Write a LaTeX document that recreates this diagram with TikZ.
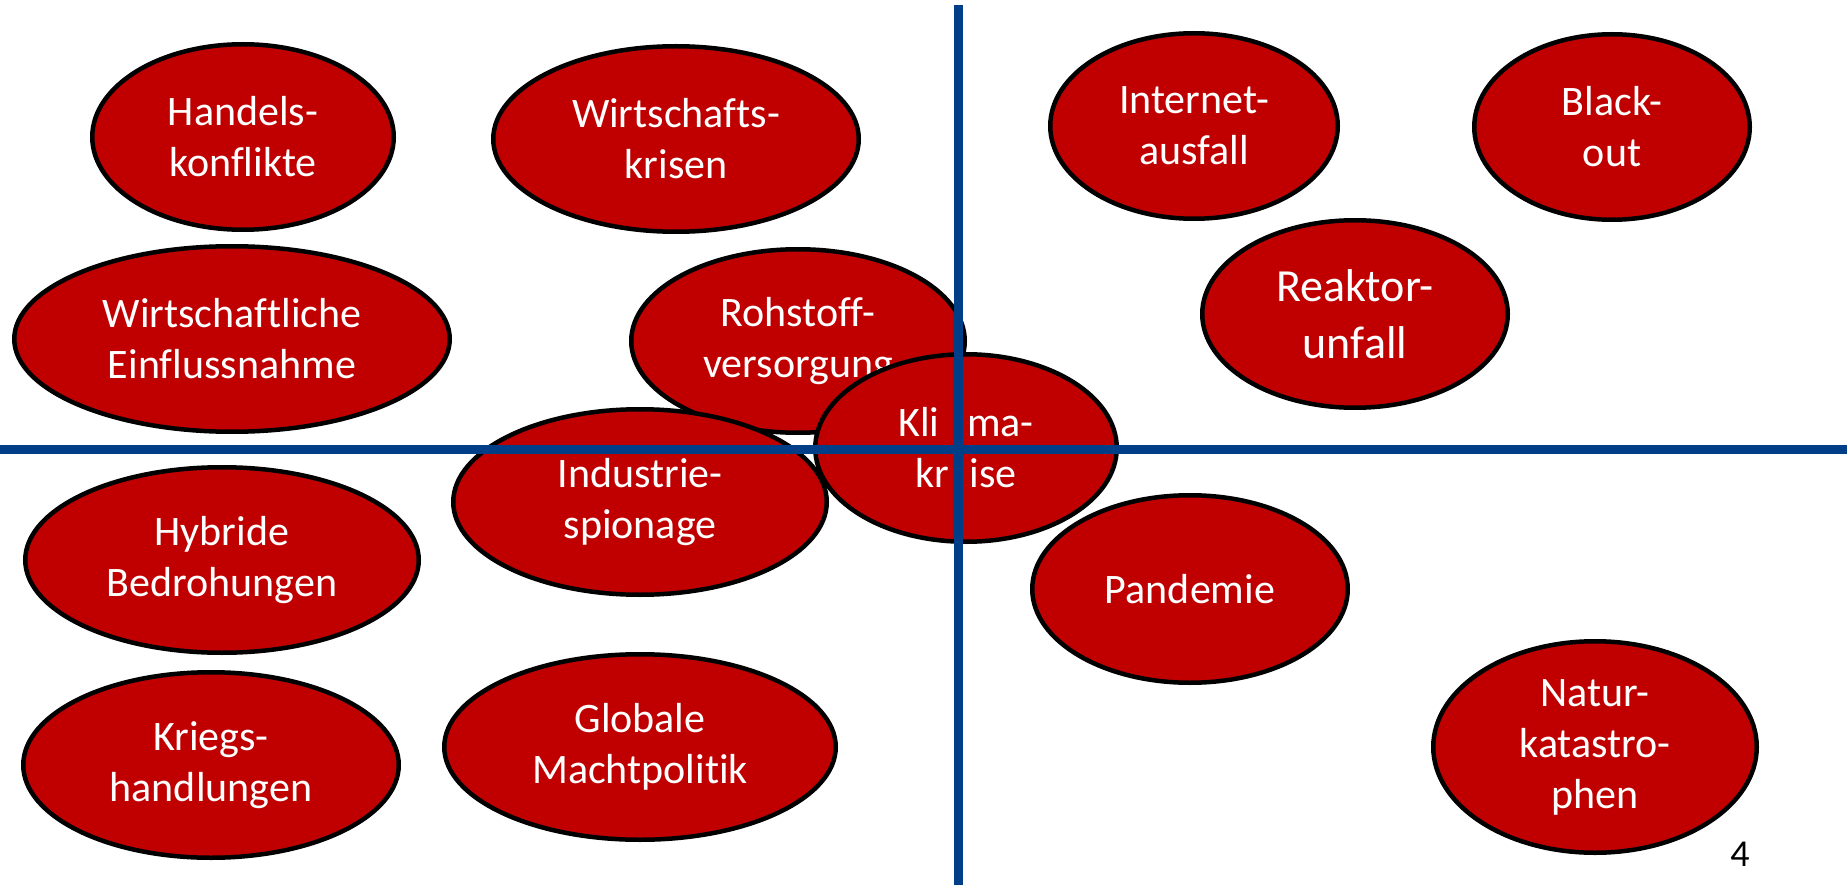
\documentclass[tikz,border=0pt]{standalone}
\usepackage{fontspec}
\setmainfont{Carlito}[Ligatures=NoCommon]
\usetikzlibrary{shapes.geometric}
\definecolor{riskred}{RGB}{192,0,0}
\definecolor{axisblue}{RGB}{0,63,135}
\tikzset{
  risk/.style={ellipse, draw=black, line width=4.5pt, fill=riskred, text=white,
    inner sep=0pt, align=center, font=\fontsize{42}{51}\selectfont},
  axisline/.style={draw=axisblue, line width=9pt},
  pagenum/.style={text=black, inner sep=0pt, font=\fontsize{38}{44}\selectfont}
}
\begin{document}
\begin{tikzpicture}[x=1pt,y=-1pt]
\useasboundingbox[fill=white] (0,0) rectangle (1847,885);
% upper left
\node[risk, minimum width=301.5pt, minimum height=185.5pt] (hk) at (243,137) {Handels-\\konflikte};
\node[risk, minimum width=365.5pt, minimum height=185.5pt] (wk) at (676,139) {Wirtschafts-\\krisen};
\node[risk, minimum width=435.5pt, minimum height=185.5pt] (we) at (232,339) {Wirtschaftliche\\Einflussnahme};
% upper right
\node[risk, minimum width=287.5pt, minimum height=185.5pt] (ia) at (1194,126) {Internet-\\ausfall};
\node[risk, minimum width=275.5pt, minimum height=185.5pt] (bo) at (1612,127) {Black-\\out};
\node[risk, minimum width=305.5pt, minimum height=187.5pt, font=\fontsize{46}{57}\selectfont] (ru) at (1355,314) {Reaktor-\\unfall};
% lower left
\node[risk, minimum width=393.5pt, minimum height=185.5pt] (hb) at (222,560) {Hybride\\Bedrohungen};
\node[risk, minimum width=375.5pt, minimum height=185.5pt] (kh) at (211,765) {Kriegs-\\handlungen};
\node[risk, minimum width=391.5pt, minimum height=185.5pt] (gm) at (640,747) {Globale\\Machtpolitik};
% lower right
\node[risk, minimum width=315.5pt, minimum height=187.5pt] (pd) at (1190,589) {Pandemie};
\node[risk, minimum width=323.5pt, minimum height=211.5pt] (nk) at (1595,747) {Natur-\\katastro-\\phen};
% overlapping centre group
\node[risk, minimum width=333.5pt, minimum height=183.5pt] (rv) at (798,341) {Rohstoff-\\versorgung};
\node[risk, minimum width=373.5pt, minimum height=185.5pt] (is) at (640,502) {Industrie-\\spionage};
\node[risk, minimum width=301.5pt, minimum height=187.5pt] (kk) at (966,448) {Kli\hspace{28pt}ma-\\kr\hspace{21pt}ise};
% axes
\coordinate (vtop) at (958.5,5);
\coordinate (vbot) at (958.5,885);
\coordinate (hleft) at (0,449);
\coordinate (hright) at (1847,449);
\draw[axisline] (vtop) -- (vbot);
\draw[axisline] (hleft) -- (hright);
% page number
\node[pagenum] (pn) at (1740,854) {4};
\end{tikzpicture}
\end{document}
